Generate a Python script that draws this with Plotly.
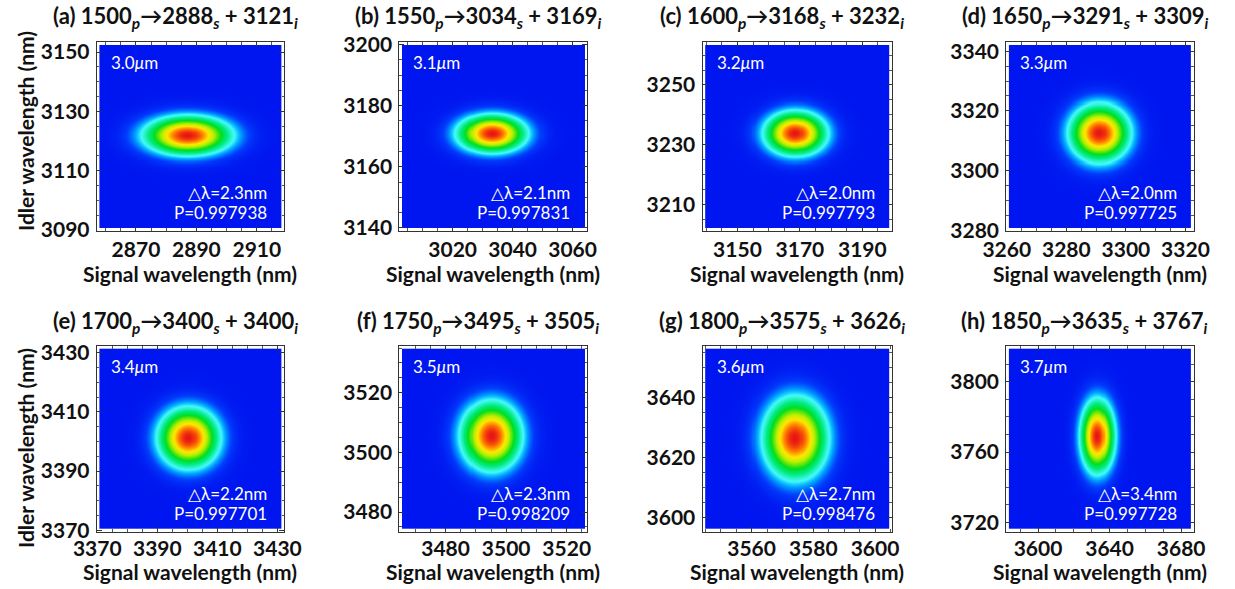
import numpy as np
import plotly.graph_objects as go

W, H = 1235, 589

# ---------------- data ----------------
panel = ["a", "b", "c", "d", "e", "f", "g", "h"]
pump = [1500, 1550, 1600, 1650, 1700, 1750, 1800, 1850]
signal = [2888, 3034, 3168, 3291, 3400, 3495, 3575, 3635]
idler = [3121, 3169, 3232, 3309, 3400, 3505, 3626, 3767]
width_um = ["3.0", "3.1", "3.2", "3.3", "3.4", "3.5", "3.6", "3.7"]
dlam = ["2.3", "2.1", "2.0", "2.0", "2.2", "2.3", "2.7", "3.4"]
purity = ["0.997938", "0.997831", "0.997793", "0.997725",
          "0.997701", "0.998209", "0.998476", "0.997728"]

x_ranges = [[2857, 2919], [3002.2, 3064.9], [3138.8, 3199.4], [3259.8, 3322.7],
            [3369.8, 3432.2], [3464.7, 3526.8], [3544.1, 3605.4], [3582.2, 3686.9]]
y_ranges = [[3089.7, 3153.3], [3139, 3200.8], [3201.1, 3264.3], [3279.8, 3343],
            [3369.5, 3432.3], [3473.4, 3535.7], [3595.3, 3657.2], [3714.7, 3820.3]]
x_ticks = [[2870, 2890, 2910], [3020, 3040, 3060], [3150, 3170, 3190],
           [3260, 3280, 3300, 3320], [3370, 3390, 3410, 3430], [3480, 3500, 3520],
           [3560, 3580, 3600], [3600, 3640, 3680]]
y_ticks = [[3090, 3110, 3130, 3150], [3140, 3160, 3180, 3200], [3210, 3230, 3250],
           [3280, 3300, 3320, 3340], [3370, 3390, 3410, 3430], [3480, 3500, 3520],
           [3600, 3620, 3640], [3720, 3760, 3800]]
minor_step = [5, 5, 5, 5, 5, 5, 5, 10]

# joint spectral intensity peak position and visible half-extent (nm)
peak_s = [2887, 3033, 3168.4, 3291, 3400.3, 3495, 3574, 3633]
peak_i = [3122, 3171, 3233.9, 3312.7, 3401.5, 3505.8, 3626.7, 3769.4]
half_s = [15, 12, 10.4, 10.5, 10.5, 10.3, 10.8, 9.9]
half_i = [7, 6.6, 7.8, 10, 10.5, 11.9, 14, 21.6]

# ---------------- layout (pixels) ----------------
col_px = [(96.7, 284), (399.3, 587.3), (702.5, 891.7), (1006.2, 1193.5)]
row_px = [(42.3, 230.8), (346, 531.7)]

colorscale = [
    [0.00, "rgb(0,22,240)"],
    [0.05, "rgb(0,60,252)"],
    [0.12, "rgb(0,175,255)"],
    [0.18, "rgb(70,250,250)"],
    [0.30, "rgb(0,235,130)"],
    [0.42, "rgb(0,222,30)"],
    [0.60, "rgb(190,240,0)"],
    [0.72, "rgb(255,232,0)"],
    [0.86, "rgb(255,120,0)"],
    [1.00, "rgb(232,20,20)"],
]

FONT = "Lato"
fig = go.Figure()
annotations = []
layout = {}

tickfont = dict(family=FONT, size=21, color="#111")
edge_r = np.sqrt(-2 * np.log(0.2))

for k in range(8):
    r, c = divmod(k, 4)
    x0p, x1p = col_px[c]
    ytp, ybp = row_px[r]
    xr, yr = x_ranges[k], y_ranges[k]
    ppn_x = (x1p - x0p) / (xr[1] - xr[0])
    ppn_y = (ybp - ytp) / (yr[1] - yr[0])
    padx = 3.2 / ppn_x
    pady = 3.2 / ppn_y
    xs = np.linspace(xr[0] + padx, xr[1] - padx, 180)
    ys = np.linspace(yr[0] + pady, yr[1] - pady, 180)
    X, Y = np.meshgrid(xs, ys)
    sx = half_s[k] / edge_r
    sy = half_i[k] / edge_r
    Z = np.exp(-0.5 * ((X - peak_s[k]) / sx) ** 2 - 0.5 * ((Y - peak_i[k]) / sy) ** 2)

    xa = "x" if k == 0 else f"x{k+1}"
    ya = "y" if k == 0 else f"y{k+1}"
    fig.add_trace(go.Heatmap(x=xs, y=ys, z=Z, colorscale=colorscale, zmin=0, zmax=1,
                             showscale=False, zsmooth="best", xaxis=xa, yaxis=ya,
                             hoverinfo="skip"))

    axcommon = dict(showgrid=False, zeroline=False, showline=True, linecolor="#333",
                    linewidth=1, mirror="ticks", ticks="inside", ticklen=5,
                    tickcolor="#333", tickwidth=1, tickfont=tickfont, automargin=False,
                    minor=dict(ticks="inside", ticklen=2.5, tickcolor="#555",
                               dtick=minor_step[k], tick0=0))
    layout["xaxis" if k == 0 else f"xaxis{k+1}"] = dict(
        axcommon, domain=[x0p / W, x1p / W], range=xr, tickvals=x_ticks[k],
        ticktext=[f"<b>{v}</b>" for v in x_ticks[k]], anchor=ya,
        ticklabelstandoff=0 if r == 0 else -2)
    layout["yaxis" if k == 0 else f"yaxis{k+1}"] = dict(
        axcommon, domain=[1 - ybp / H, 1 - ytp / H], range=yr, tickvals=y_ticks[k],
        ticktext=[f"<b>{v}</b>" for v in y_ticks[k]], anchor=xa, ticklabelstandoff=2)

    # panel title
    title = (f"<b>({panel[k]}) {pump[k]}<sub><i>p</i></sub>\u2192{signal[k]}"
             f"<sub><i>s</i></sub> + {idler[k]}<sub><i>i</i></sub></b>")
    annotations.append(dict(text=title, xref="paper", yref="paper",
                            x=((x0p + x1p) / 2 - 15) / W, y=1 - (17 if r == 0 else 322) / H,
                            xanchor="center", yanchor="middle", showarrow=False,
                            font=dict(family=FONT, size=22, color="#111")))
    # x axis title
    annotations.append(dict(text="<b>Signal wavelength (nm)</b>", xref="paper", yref="paper",
                            x=((x0p + x1p) / 2) / W, y=1 - (274 if r == 0 else 571) / H,
                            xanchor="center", yanchor="middle", showarrow=False,
                            font=dict(family=FONT, size=21, color="#111")))
    # inner labels
    annotations.append(dict(text=f"{width_um[k]}<i>\u03bc</i>m", xref="paper", yref="paper",
                            x=(x0p + 12) / W, y=1 - (ytp + 20) / H,
                            xanchor="left", yanchor="middle", showarrow=False,
                            font=dict(family=FONT, size=17, color="white")))
    annotations.append(dict(text=f"\u25b3\u03bb={dlam[k]}nm", xref="paper", yref="paper",
                            x=(x1p - 15) / W, y=1 - (ybp - 38.5) / H,
                            xanchor="right", yanchor="middle", showarrow=False,
                            font=dict(family=FONT, size=17, color="white")))
    annotations.append(dict(text=f"P={purity[k]}", xref="paper", yref="paper",
                            x=(x1p - 15) / W, y=1 - (ybp - 18.5) / H,
                            xanchor="right", yanchor="middle", showarrow=False,
                            font=dict(family=FONT, size=17, color="white")))

for r, yc in enumerate([131, 448]):
    annotations.append(dict(text="<b>Idler wavelength (nm)</b>", xref="paper", yref="paper",
                            x=25 / W, y=1 - yc / H, xanchor="center", yanchor="middle",
                            textangle=-90, showarrow=False,
                            font=dict(family=FONT, size=21, color="#111")))

fig.update_layout(width=W, height=H, margin=dict(l=0, r=0, t=0, b=0, autoexpand=False),
                  paper_bgcolor="white", plot_bgcolor="white",
                  annotations=annotations, showlegend=False, **layout)

fig.write_html("out.html", config={"displayModeBar": False},
               post_script="document.body.style.margin='0';")
